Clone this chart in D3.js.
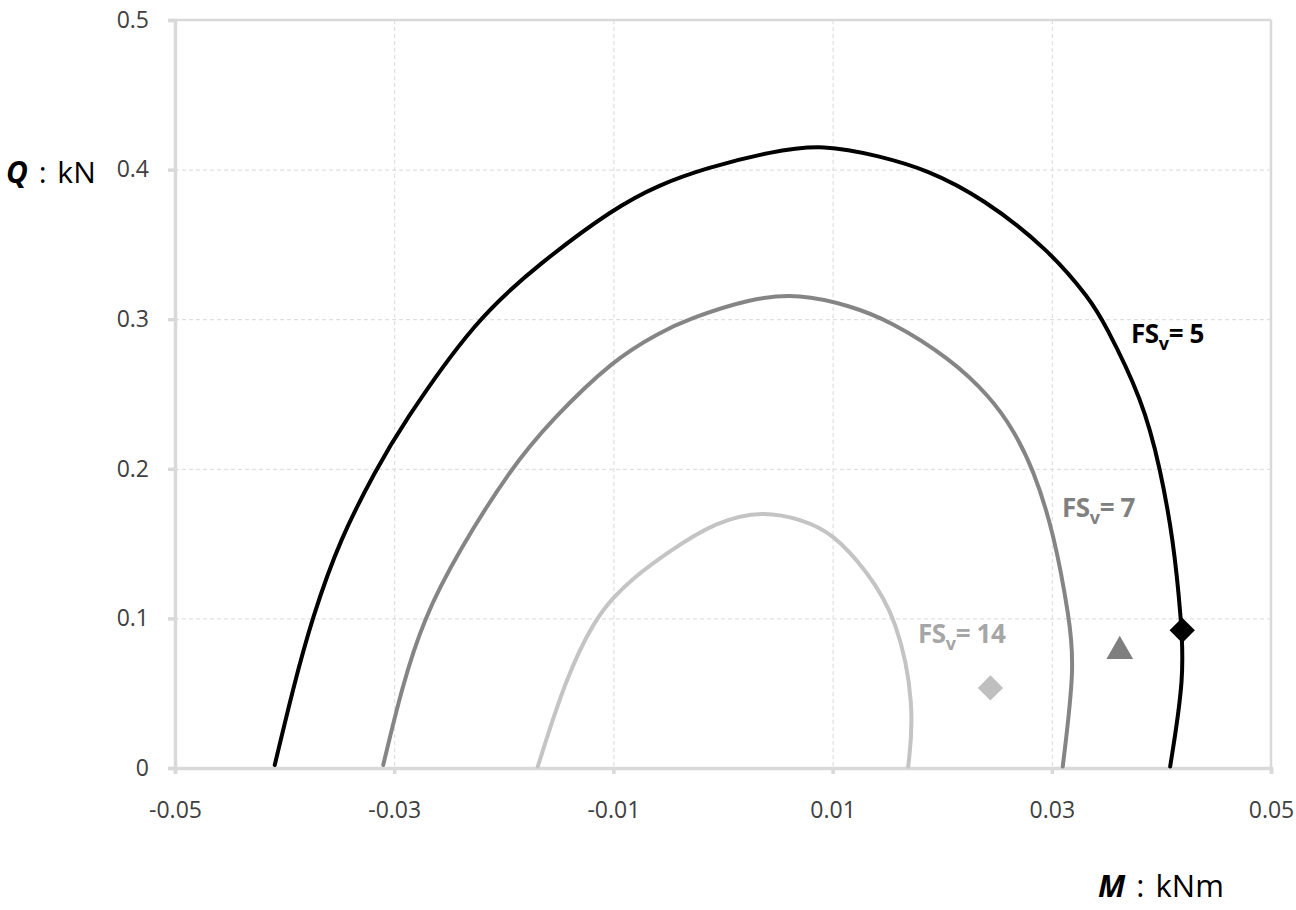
<!DOCTYPE html>
<html>
<meta charset="utf-8">
<head>
  <title>Q-M interaction</title>
  <style>
    body, html { margin: 0; padding: 0; background: #ffffff; }
    #chart { width: 1296px; height: 910px; }
    .grid line { stroke: #d9d9d9; stroke-width: 1; stroke-dasharray: 4,3; }
    .grid path { display: none; }
  </style>
  <script src="https://d3js.org/d3.v7.min.js"></script>
</head>
<body>
<div id="chart"></div>
<script>
// tick values
var x_ticks = [-0.05, -0.03, -0.01, 0.01, 0.03, 0.05];
var y_ticks = [0, 0.1, 0.2, 0.3, 0.4, 0.5];

// FSv = 5 envelope (M in kNm, Q in kN)
var fs5_m = [-0.0409, -0.0392, -0.0375, -0.0349, -0.0316, -0.0294, -0.0226, -0.0166, -0.0100, -0.0058,
             -0.0016, 0.0043, 0.0092, 0.0143, 0.0186, 0.0237, 0.0298, 0.0335, 0.0347, 0.0383,
             0.0399, 0.0411, 0.0418, 0.0421, 0.0408];
var fs5_q = [0.002, 0.054, 0.100, 0.154, 0.200, 0.228, 0.300, 0.338, 0.374, 0.390,
             0.401, 0.412, 0.417, 0.409, 0.400, 0.381, 0.346, 0.313, 0.299, 0.246,
             0.200, 0.152, 0.100, 0.061, 0.001];

// FSv = 7 envelope
var fs7_m = [-0.0310, -0.0293, -0.0273, -0.0242, -0.0194, -0.0156, -0.0100, -0.0058, -0.0032, 0.0025,
             0.0070, 0.0116, 0.0152, 0.0207, 0.0244, 0.0265, 0.0283, 0.0302, 0.0316, 0.0321, 0.0310];
var fs7_q = [0.002, 0.054, 0.100, 0.144, 0.200, 0.233, 0.273, 0.291, 0.300, 0.314,
             0.317, 0.309, 0.299, 0.274, 0.248, 0.226, 0.200, 0.157, 0.100, 0.068, 0.001];

// FSv = 14 envelope
var fs14_m = [-0.0169, -0.0143, -0.0117, -0.0100, -0.0082, -0.0051, -0.0006, 0.0037, 0.0072, 0.0100,
              0.0131, 0.0159, 0.0175, 0.0169];
var fs14_q = [0.001, 0.061, 0.099, 0.114, 0.127, 0.144, 0.165, 0.172, 0.166, 0.157,
              0.132, 0.100, 0.041, 0.001];

// load points
var pt_names = ["fs14", "fs7", "fs5"];
var pt_m = [0.0244, 0.0362, 0.0419];
var pt_q = [0.0535, 0.078, 0.092];

var margin = { top: 20, right: 25, bottom: 142, left: 175 };
var width = 1296 - margin.left - margin.right;
var height = 910 - margin.top - margin.bottom;

var font = "'Open Sans', sans-serif";

var svg = d3.select("#chart")
            .append("svg")
            .attr("width", 1296)
            .attr("height", 910);

var chart = svg.append("g")
               .attr("transform", "translate(" + margin.left + "," + margin.top + ")");

var x = d3.scaleLinear().domain([-0.05, 0.05]).range([0, width]);
var y = d3.scaleLinear().domain([0, 0.5]).range([height, 0]);

// dashed grid
chart.append("g")
     .attr("class", "grid")
     .call(d3.axisBottom(x).tickValues(x_ticks.slice(1, -1)).tickSize(height).tickFormat(""));
chart.append("g")
     .attr("class", "grid")
     .call(d3.axisLeft(y).tickValues(y_ticks.slice(1, -1)).tickSize(-width).tickFormat(""));

// plot border top and right
chart.append("line")
     .attr("x1", 0).attr("x2", width).attr("y1", y(0.5)).attr("y2", y(0.5))
     .attr("stroke", "#d9d9d9").attr("stroke-width", 2.5);
chart.append("line")
     .attr("x1", x(0.05)).attr("x2", x(0.05)).attr("y1", 0).attr("y2", height)
     .attr("stroke", "#d9d9d9").attr("stroke-width", 2.5);

// axes
var x_axis = chart.append("g")
     .attr("transform", "translate(0," + height + ")")
     .call(d3.axisBottom(x).tickValues(x_ticks).tickSize(6).tickPadding(28)
             .tickFormat(function(d) { return d3.format(".2f")(d).replace("−", "-"); }));
var y_axis = chart.append("g")
     .call(d3.axisLeft(y).tickValues(y_ticks).tickSize(7).tickPadding(19)
             .tickFormat(function(d) { return d === 0 ? "0" : d3.format(".1f")(d); }));

[x_axis, y_axis].forEach(function(a) {
  a.attr("font-family", font).attr("font-size", 23);
  a.select(".domain").attr("stroke", "#d9d9d9").attr("stroke-width", 3.5);
  a.selectAll(".tick line").attr("stroke", "#d9d9d9").attr("stroke-width", 3.5);
  a.selectAll(".tick text").attr("fill", "#404040");
});

// envelopes
var line = d3.line()
             .x(function(d) { return x(d[0]); })
             .y(function(d) { return y(d[1]); })
             .curve(d3.curveBasis);

var curves = [
  { m: fs14_m, q: fs14_q, color: "#c4c4c4" },
  { m: fs7_m, q: fs7_q, color: "#858585" },
  { m: fs5_m, q: fs5_q, color: "#000000" }
];

curves.forEach(function(c) {
  chart.append("path")
       .datum(d3.zip(c.m, c.q))
       .attr("d", line)
       .attr("fill", "none")
       .attr("stroke", c.color)
       .attr("stroke-width", 4)
       .attr("stroke-linecap", "round");
});

// markers
var pt_sym = [d3.symbolSquare, d3.symbolTriangle, d3.symbolSquare];
var pt_rot = [45, 0, 45];
var pt_col = ["#bfbfbf", "#7f7f7f", "#000000"];
var pt_size = [320, 310, 320];

pt_names.forEach(function(n, i) {
  chart.append("path")
       .attr("d", d3.symbol().type(pt_sym[i]).size(pt_size[i]))
       .attr("transform", "translate(" + x(pt_m[i]) + "," + y(pt_q[i]) + ") rotate(" + pt_rot[i] + ")")
       .attr("fill", pt_col[i]);
});

// curve labels
var labels = [
  { text: "5", px: 1131, py: 343, color: "#000000" },
  { text: "7", px: 1062, py: 517, color: "#808080" },
  { text: "14", px: 918, py: 643, color: "#a6a6a6" }
];
labels.forEach(function(l) {
  var t = svg.append("text")
             .attr("x", l.px)
             .attr("y", l.py)
             .attr("font-family", font)
             .attr("font-weight", 700)
             .attr("font-size", 26)
             .attr("letter-spacing", -0.4)
             .attr("fill", l.color);
  t.append("tspan").text("FS");
  t.append("tspan").attr("dy", 7).attr("font-size", 18).text("v");
  t.append("tspan").attr("dy", -7).text("= " + l.text);
});

// axis titles
var qt = svg.append("text")
            .attr("font-family", font)
            .attr("font-size", 30)
            .attr("word-spacing", 3)
            .attr("fill", "#000")
            .attr("x", 6)
            .attr("y", 183);
qt.append("tspan").attr("font-weight", 700).attr("font-style", "italic").text("Q");
qt.append("tspan").text(" : kN");

var mt = svg.append("text")
            .attr("font-family", font)
            .attr("font-size", 31)
            .attr("word-spacing", 3)
            .attr("fill", "#000")
            .attr("x", 1098)
            .attr("y", 897);
mt.append("tspan").attr("font-weight", 700).attr("font-style", "italic").text("M");
mt.append("tspan").text(" : kNm");
</script>
</body>
</html>
